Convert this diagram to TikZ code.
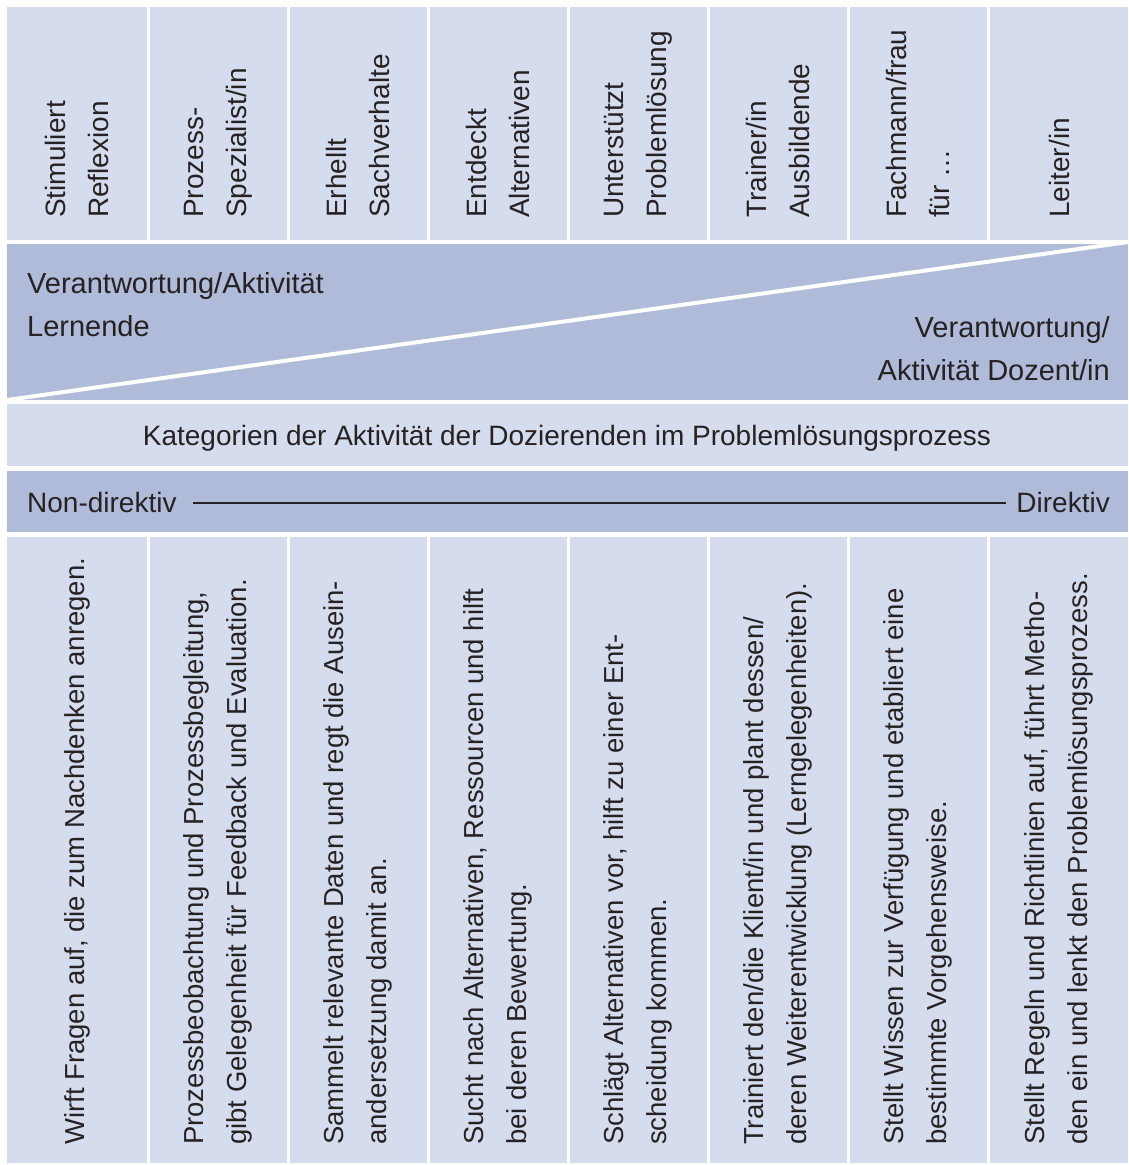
\documentclass[tikz,border=0pt]{standalone}
\usepackage{fontspec}
\setmainfont{Liberation Sans}
\usepackage{tikz}
\usetikzlibrary{positioning,calc}
\usepackage{xcolor}
\definecolor{paleBlue}{RGB}{213,220,238}
\definecolor{midBlue}{RGB}{175,187,217}
\definecolor{inkGray}{RGB}{38,34,35}

\begin{document}
\begin{tikzpicture}[
        x=1pt, y=-1pt,
        lbl/.style={font=\fontsize{28}{43}\selectfont, text=inkGray, inner sep=0pt},
        big/.style={lbl, font=\fontsize{29}{43}\selectfont},
        up/.style={lbl, rotate=90, anchor=west, align=left},
        upsmall/.style={up, font=\fontsize{27.5}{43}\selectfont},
      ]
        \useasboundingbox (0,0) rectangle (1128,1165);

        % column fields top and bottom
        \foreach \i in {0,...,7} {
          \pgfmathsetmacro{\lft}{ifthenelse(\i==0,7,10+140*\i)}
          \pgfmathsetmacro{\rgt}{ifthenelse(\i==7,1128,147+140*\i)}
          \fill[paleBlue] (\lft,7) rectangle (\rgt,240);
          \fill[paleBlue] (\lft,537) rectangle (\rgt,1163);
        }

        % middle bands
        \fill[midBlue] (7,244) rectangle (1128,400);
        \draw[white, line width=4pt] (7,400) -- (1128,242);
        \fill[paleBlue] (7,404) rectangle (1128,466);
        \fill[midBlue] (7,471) rectangle (1128,532);

        % roles
        \node[up] (top1) at (77,218) {Stimuliert\\Reflexion};
        \node[up] (top2) at (218,218) {Prozess-\\Spezialist/in};
        \node[up] (top3) at (358,218) {Erhellt\\Sachverhalte};
        \node[up] (top4) at (498,218) {Entdeckt\\Alternativen};
        \node[up] (top5) at (638,218) {Unterstützt\\Problemlösung};
        \node[up] (top6) at (778,218) {Trainer/in\\Ausbildende};
        \node[up] (top7) at (918,218) {Fachmann/frau\\für \dots};
        \node[up] (top8) at (1059,218) {Leiter/in};

        % responsibility
        \node[big, anchor=north west, align=left] (learn) at (27,272)
          {Verantwortung/Aktivität\\Lernende};
        \node[big, anchor=north east, align=right] (teach) at (1110,316)
          {Verantwortung/\\Aktivität Dozent/in};

        % categories
        \node[lbl, anchor=base] (cat) at (567,445)
          {Kategorien der Aktivität der Dozierenden im Problemlösungsprozess};

        % scale
        \node[lbl, anchor=base west] (nondir) at (27,512) {Non-direktiv};
        \node[lbl, anchor=base east] (dir) at (1110,512) {Direktiv};
        \draw[inkGray, line width=1.5pt] ($(nondir.base east)+(16,-9)$) -- ($(dir.base west)+(-10,-9)$);

        % descriptions
        \node[upsmall] (bot1) at (77,1145) {Wirft Fragen auf, die zum Nachdenken anregen.};
        \node[upsmall] (bot2) at (218,1145) {Prozessbeobachtung und Prozessbegleitung,\\gibt Gelegenheit für Feedback und Evaluation.};
        \node[upsmall] (bot3) at (358,1145) {Sammelt relevante Daten und regt die Ausein-\\andersetzung damit an.};
        \node[upsmall] (bot4) at (498,1145) {Sucht nach Alternativen, Ressourcen und hilft\\bei deren Bewertung.};
        \node[upsmall] (bot5) at (638,1145) {Schlägt Alternativen vor, hilft zu einer Ent-\\scheidung kommen.};
        \node[upsmall] (bot6) at (778,1145) {Trainiert den/die Klient/in und plant dessen/\\deren Weiterentwicklung (Lerngelegenheiten).};
        \node[upsmall] (bot7) at (918,1145) {Stellt Wissen zur Verfügung und etabliert eine\\bestimmte Vorgehensweise.};
        \node[upsmall] (bot8) at (1059,1145) {Stellt Regeln und Richtlinien auf, führt Metho-\\den ein und lenkt den Problemlösungsprozess.};
      \end{tikzpicture}
\end{document}
